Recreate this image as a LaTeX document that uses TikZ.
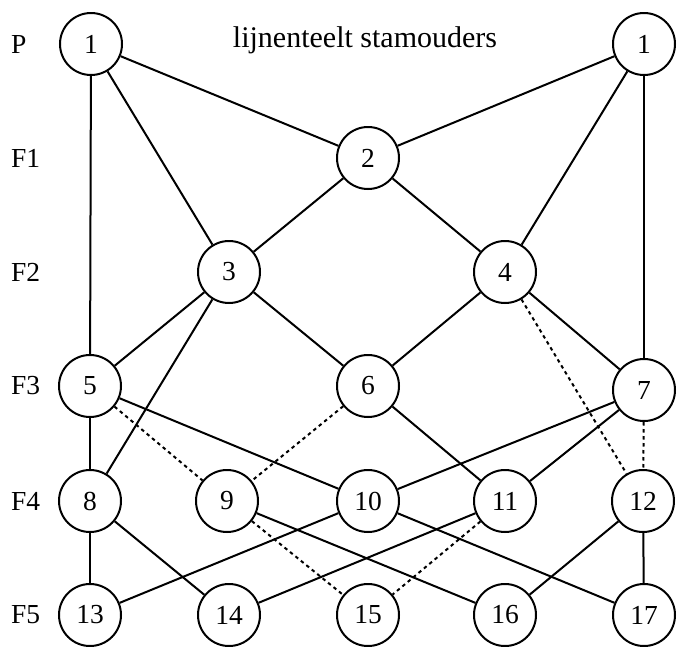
\documentclass[tikz,border=0pt]{standalone}
\usepackage{fontspec}
\setmainfont{Liberation Serif}
\begin{document}
\begin{tikzpicture}[x=1pt,y=-1pt,
  gen/.style={circle,draw,line width=2pt,minimum size=62pt,inner sep=0pt,font=\fontsize{27.5}{32}\selectfont},
  lbl/.style={anchor=west,inner sep=0pt,font=\fontsize{27.5}{32}\selectfont},
  edge/.style={line width=2pt},
  dedge/.style={line width=2pt,dash pattern=on 3.5pt off 3.5pt}]
\useasboundingbox (0,0) rectangle (685,646);
\node[lbl] (lP) at (11,44) {P};
\node[lbl] (l1) at (11,158) {F1};
\node[lbl] (l2) at (11,272) {F2};
\node[lbl] (l3) at (11,386) {F3};
\node[lbl] (l4) at (11,501) {F4};
\node[lbl] (l5) at (11,615) {F5};
\node[inner sep=0pt,font=\fontsize{30}{34}\selectfont] (title) at (365,40) {lijnenteelt stamouders};
\node[gen] (pa) at (91,44) {1};
\node[gen] (pb) at (644,44) {1};
\node[gen] (n2) at (368,158) {2};
\node[gen] (n3) at (229,272) {3};
\node[gen] (n4) at (505,272) {4};
\node[gen] (n5) at (90,386) {5};
\node[gen] (n6) at (368,386) {6};
\node[gen] (n7) at (644,390) {7};
\node[gen] (n8) at (90,501) {8};
\node[gen] (n9) at (227,501) {9};
\node[gen] (n10) at (368,501) {10};
\node[gen] (n11) at (505,501) {11};
\node[gen] (n12) at (643,501) {12};
\node[gen] (n13) at (90,615) {13};
\node[gen] (n14) at (229,615) {14};
\node[gen] (n15) at (368,615) {15};
\node[gen] (n16) at (505,615) {16};
\node[gen] (n17) at (644,615) {17};
\draw[edge] (pa) -- (n2);
\draw[edge] (pa) -- (n3);
\draw[edge] (pa) -- (n5);
\draw[edge] (pb) -- (n2);
\draw[edge] (pb) -- (n4);
\draw[edge] (pb) -- (n7);
\draw[edge] (n2) -- (n3);
\draw[edge] (n2) -- (n4);
\draw[edge] (n3) -- (n5);
\draw[edge] (n3) -- (n6);
\draw[edge] (n3) -- (n8);
\draw[edge] (n4) -- (n6);
\draw[edge] (n4) -- (n7);
\draw[dedge] (n4) -- (n12);
\draw[edge] (n5) -- (n8);
\draw[dedge] (n5) -- (n9);
\draw[edge] (n5) -- (n10);
\draw[dedge] (n6) -- (n9);
\draw[edge] (n6) -- (n11);
\draw[edge] (n7) -- (n10);
\draw[edge] (n7) -- (n11);
\draw[dedge] (n7) -- (n12);
\draw[edge] (n8) -- (n13);
\draw[edge] (n8) -- (n14);
\draw[dedge] (n9) -- (n15);
\draw[edge] (n9) -- (n16);
\draw[edge] (n10) -- (n13);
\draw[edge] (n10) -- (n17);
\draw[edge] (n11) -- (n14);
\draw[dedge] (n11) -- (n15);
\draw[edge] (n12) -- (n16);
\draw[edge] (n12) -- (n17);
\end{tikzpicture}
\end{document}
